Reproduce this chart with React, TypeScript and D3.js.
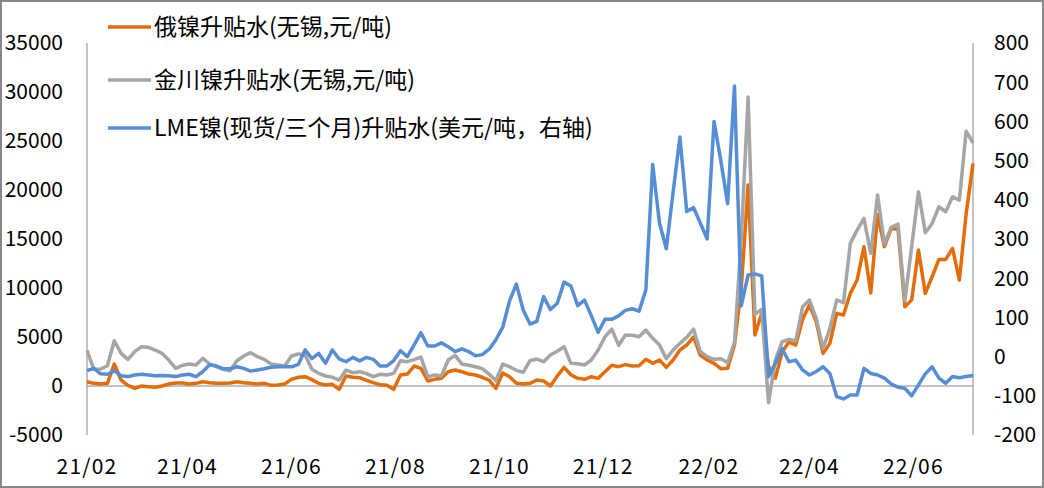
import React from "react";
import * as d3 from "d3";

const startDate = new Date(2021, 1, 1);
const stepDays = 4;

const russianNi = [
  440, 270, 200, 270, 2240, 610, 70, -240, 0, -70, -130, 0, 200, 310, 310, 200, 270, 440, 340, 270,
  270, 310, 440, 340, 270, 200, 270, 70, 100, 200, 680, 890, 950, 650, 270, 100, 170, -340, 1020, 890,
  850, 580, 340, 130, 70, -340, 1120, 1220, 2040, 1800, 510, 680, 780, 1460, 1630, 1460, 1220, 1120, 890, 610,
  -240, 1330, 950, 270, 200, 270, 610, 510, 0, 1020, 1900, 1150, 780, 680, 950, 780, 1460, 2110, 1970, 2180,
  2040, 2070, 2720, 2310, 2650, 1900, 2650, 3670, 4180, 5000, 3130, 2650, 2310, 1770, 1800, 4180, 10000, 20500, 5200, 7410,
  2000, 800, 3500, 4500, 4180, 6800, 8260, 6560, 3330, 4350, 7410, 7240, 9450, 10810, 14210, 9500, 17500, 14210, 16080, 16000,
  8090, 8770, 13870, 9450, 11150, 12920, 12920, 14040, 10800, 17610, 22710,
];

const jinchuanNi = [
  3650, 1700, 1730, 2070, 4620, 3330, 2720, 3500, 4010, 3950, 3670, 3330, 2650, 1800, 2110, 2240, 2140, 2830, 2240, 1970,
  1700, 1560, 2580, 3060, 3400, 2990, 2720, 2240, 2140, 2040, 3060, 3260, 3160, 1700, 1290, 1020, 890, 610, 1630, 1360,
  1460, 1260, 950, 1190, 1120, 1290, 2580, 2480, 2690, 2950, 950, 1120, 1050, 2650, 3130, 2240, 2110, 1970, 1770, 1220,
  540, 2240, 1970, 1600, 1400, 2580, 2750, 2480, 3160, 3540, 4010, 2310, 2270, 2140, 2650, 3670, 5030, 5800, 4150, 5200,
  5170, 5030, 5710, 4860, 4180, 2790, 3670, 4350, 4970, 5800, 3500, 2990, 2720, 2780, 2380, 4420, 15000, 29500, 7300, 7820,
  -1700, 2650, 4520, 4760, 4620, 8090, 8770, 6900, 3840, 5880, 8770, 8500, 14550, 15910, 17100, 13530, 19500, 14500, 16190, 16520,
  8670, 14210, 19820, 15640, 16590, 18290, 17780, 19310, 18970, 26000, 24800,
];

const lmeSpread = [
  -36, -30, -44, -45, -36, -49, -51, -47, -45, -47, -49, -48, -49, -51, -47, -45, -51, -38, -21, -24,
  -31, -31, -26, -30, -37, -34, -31, -27, -26, -26, -26, -20, 17, -5, 8, -17, 17, -6, -13, -2,
  -11, -2, -7, -24, -24, -10, 15, 0, 30, 61, 27, 27, 35, 25, 13, 20, 13, 2, 5, 19,
  43, 75, 142, 185, 119, 83, 90, 153, 120, 136, 190, 180, 130, 144, 104, 62, 95, 95, 104, 118,
  122, 116, 170, 490, 340, 275, 420, 560, 370, 380, 340, 300, 600, 500, 390, 690, 130, 208, 211, 206,
  -51, -17, 20, -13, -9, -34, -47, -38, -26, -43, -102, -108, -98, -98, -30, -43, -47, -55, -70, -78,
  -81, -100, -72, -44, -26, -55, -68, -51, -54, -51, -48,
];

const leftTicks = [-5000, 0, 5000, 10000, 15000, 20000, 25000, 30000, 35000];
const rightTicks = [-200, -100, 0, 100, 200, 300, 400, 500, 600, 700, 800];
const monthTicks = ["2021-02", "2021-04", "2021-06", "2021-08", "2021-10", "2021-12", "2022-02", "2022-04", "2022-06"];

const legendLabels = [
  "俄镍升贴水(无锡,元/吨)",
  "金川镍升贴水(无锡,元/吨)",
  "LME镍(现货/三个月)升贴水(美元/吨，右轴)",
];
const colors = ["#E46C0A", "#A5A5A5", "#558ED5"];

const FONT = "'Noto Sans CJK SC', 'Noto Sans', sans-serif";

export default function App() {
  const W = 1044, H = 488;
  const left = 87, right = 973, top = 43, bottom = 435;
  const dates = russianNi.map((_, i) => d3.timeDay.offset(startDate, i * stepDays));
  const x = d3.scaleTime().domain([startDate, dates[dates.length - 1]]).range([left, right]);
  const yL = d3.scaleLinear().domain([-5000, 35000]).range([bottom, top]);
  const yR = d3.scaleLinear().domain([-200, 800]).range([bottom, top]);
  const lineL = d3.line<number>().x((_, i) => x(dates[i])).y((d) => yL(d));
  const lineR = d3.line<number>().x((_, i) => x(dates[i])).y((d) => yR(d));
  const parse = d3.timeParse("%Y-%m");
  const fmt = d3.timeFormat("%y/%m");
  const legendY = [27, 80, 128];

  return (
    <svg width={W} height={H} style={{ position: "absolute", left: 0, top: 0, background: "#fff" }} fontFamily={FONT}>
      <rect x={0} y={0} width={W} height={H} fill="#fff" />
      <rect x={1} y={1} width={W - 2} height={H - 2} fill="none" stroke="#878787" strokeWidth={2} />
      <line x1={left} x2={left} y1={top} y2={bottom} stroke="#868686" strokeWidth={1} />
      <line x1={right} x2={right} y1={top} y2={bottom} stroke="#868686" strokeWidth={1} />
      <line x1={left} x2={right} y1={yL(0)} y2={yL(0)} stroke="#868686" strokeWidth={1} />
      {leftTicks.map((t) => (
        <text key={"l" + t} x={63} y={yL(t)} dy="0.35em" textAnchor="end" fontSize={21} fill="#000">
          {t}
        </text>
      ))}
      {rightTicks.map((t) => (
        <text key={"r" + t} x={994} y={yR(t)} dy="0.35em" textAnchor="start" fontSize={21} fill="#000">
          {t}
        </text>
      ))}
      {monthTicks.map((m) => {
        const d = parse(m)!;
        return (
          <text key={m} x={x(d)} y={467} dy="0.35em" textAnchor="middle" fontSize={21} letterSpacing={1.2} fill="#000">
            {fmt(d)}
          </text>
        );
      })}
      <path d={lineL(russianNi) || ""} fill="none" stroke={colors[0]} strokeWidth={3.5} strokeLinejoin="round" />
      <path d={lineL(jinchuanNi) || ""} fill="none" stroke={colors[1]} strokeWidth={3.5} strokeLinejoin="round" />
      <path d={lineR(lmeSpread) || ""} fill="none" stroke={colors[2]} strokeWidth={3.5} strokeLinejoin="round" />
      {legendLabels.map((lab, i) => (
        <g key={lab}>
          <line x1={108} x2={151} y1={legendY[i]} y2={legendY[i]} stroke={colors[i]} strokeWidth={3.5} />
          <text x={154} y={legendY[i]} dy="0.35em" fontSize={23} fill="#000">
            {lab}
          </text>
        </g>
      ))}
    </svg>
  );
}
